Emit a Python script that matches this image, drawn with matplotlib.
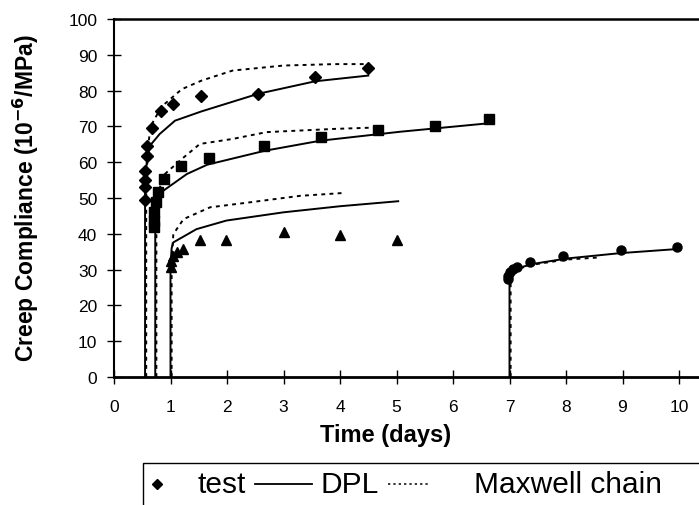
import matplotlib
matplotlib.use("Agg")
import matplotlib.pyplot as plt
from matplotlib.lines import Line2D
from matplotlib.patches import Rectangle

plt.rcParams['font.family'] = ['Liberation Sans', 'DejaVu Sans']

# ---- data ----
test1_t = [0.55, 0.55, 0.55, 0.55, 0.58, 0.59, 0.67, 0.84, 1.05, 1.54, 2.55, 3.56, 4.50]
test1_j = [49.5, 53.1, 55.1, 57.6, 61.8, 64.6, 69.6, 74.4, 76.3, 78.6, 79.1, 83.7, 86.3]
dpl1_t = [0.55, 0.55, 0.58, 0.63, 0.81, 1.08, 1.55, 2.55, 3.56, 4.50]
dpl1_j = [0, 55, 60, 64.5, 67.9, 71.6, 74.2, 79.1, 82.6, 84.2]
mx1_t = [0.57, 0.57, 0.60, 0.64, 0.84, 1.20, 1.55, 2.10, 3.00, 3.90, 4.47]
mx1_j = [0, 55, 63, 69.8, 75.5, 80.4, 82.8, 85.6, 87.0, 87.4, 87.4]

test2_t = [0.70, 0.70, 0.71, 0.74, 0.77, 0.88, 1.19, 1.69, 2.66, 3.66, 4.68, 5.68, 6.64]
test2_j = [41.8, 43.7, 46.0, 48.8, 51.8, 55.3, 58.9, 61.1, 64.6, 67.1, 69.0, 70.0, 72.1]
dpl2_t = [0.73, 0.73, 0.78, 0.87, 1.29, 1.65, 2.67, 3.65, 5.06, 6.65]
dpl2_j = [0, 42, 48, 52, 56.7, 59.3, 63.2, 66.0, 68.5, 70.9]
mx2_t = [0.75, 0.75, 0.78, 0.90, 1.20, 1.52, 2.10, 2.70, 3.90, 4.66]
mx2_j = [0, 46, 51.6, 56.7, 60.9, 65.1, 66.5, 68.4, 69.3, 69.7]

test3_t = [1.00, 1.00, 1.04, 1.11, 1.22, 1.52, 1.99, 3.00, 4.00, 5.00]
test3_j = [30.6, 32.5, 33.9, 34.8, 35.8, 38.4, 38.4, 40.4, 39.8, 38.4]
dpl3_t = [1.00, 1.00, 1.02, 1.05, 1.46, 1.99, 3.00, 4.00, 5.03]
dpl3_j = [0, 31, 36, 37.6, 41.3, 43.7, 46.0, 47.7, 49.1]
mx3_t = [1.02, 1.02, 1.05, 1.23, 1.70, 2.41, 3.29, 4.06]
mx3_j = [0, 33, 39.9, 44.1, 47.4, 48.8, 50.6, 51.4]

test4_t = [6.97, 6.97, 7.00, 7.07, 7.14, 7.36, 7.95, 8.97, 9.97]
test4_j = [27.4, 28.3, 29.2, 30.2, 30.6, 32.0, 33.7, 35.6, 36.4]
dpl4_t = [7.00, 7.00, 7.10, 7.42, 8.01, 8.96, 10.02]
dpl4_j = [0, 28.8, 30.2, 31.6, 33.1, 34.6, 35.8]
mx4_t = [7.02, 7.02, 7.10, 7.42, 8.00, 8.60]
mx4_j = [0, 28.5, 30.0, 31.4, 32.8, 33.4]

x_ticks = list(range(0, 11))
y_ticks = list(range(0, 101, 10))
legend_labels = ["test", "DPL", "Maxwell chain"]

# ---- figure ----
W, H = 699, 506
fig = plt.figure(figsize=(W / 100, H / 100), dpi=100)
ax_left, ax_right, ax_top, ax_bottom = 114, 706, 20, 378
ax_w, ax_h = ax_right - ax_left, ax_bottom - ax_top
ax = fig.add_axes([ax_left / W, 1 - ax_bottom / H, ax_w / W, ax_h / H])
ax.set_xlim(0, ax_w / 56.5)
ax.set_ylim(0, 100)

dot = (0, (2.0, 2.2))
lw = 1.4
for t, j in [(dpl1_t, dpl1_j), (dpl2_t, dpl2_j), (dpl3_t, dpl3_j), (dpl4_t, dpl4_j)]:
    ax.plot(t, j, color='black', lw=lw, solid_joinstyle='round')
for t, j in [(mx1_t, mx1_j), (mx2_t, mx2_j), (mx3_t, mx3_j), (mx4_t, mx4_j)]:
    ax.plot(t, j, color='black', lw=lw, linestyle=dot)

ax.plot(test1_t, test1_j, linestyle='none', marker='D', ms=6, color='black')
ax.plot(test2_t, test2_j, linestyle='none', marker='s', ms=6.5, color='black')
ax.plot(test3_t, test3_j, linestyle='none', marker='^', ms=7, color='black')
ax.plot(test4_t, test4_j, linestyle='none', marker='o', ms=6.5, color='black')

ax.set_xticks(x_ticks)
ax.set_yticks(y_ticks)
ax.tick_params(direction='inout', length=10, width=1, labelsize=12.5, color='black')
ax.tick_params(axis='x', pad=11)
ax.tick_params(axis='y', pad=7)
for s in ['left', 'bottom', 'top']:
    ax.spines[s].set_color('black')
ax.spines['left'].set_linewidth(1.5)
ax.spines['bottom'].set_linewidth(2)
ax.spines['top'].set_linewidth(1.8)
ax.spines['right'].set_visible(False)

ax.set_xlabel("Time (days)", fontsize=17, fontweight='bold')
ax.xaxis.set_label_coords((386 - ax_left) / ax_w, -(424 - ax_bottom) / ax_h)
ax.xaxis.label.set_verticalalignment('top')
ax.set_ylabel(r"Creep Compliance (10$^{\mathbf{-6}}$/MPa)", fontsize=16.5, fontweight='bold')
ax.yaxis.set_label_coords((26 - ax_left) / ax_w, (ax_bottom - 198) / ax_h)
ax.yaxis.label.set_verticalalignment('center')

# ---- legend box (cut by the figure's bottom and right edges, as in the reference) ----
def fx(px):
    return px / W

def fy(py):
    return 1 - py / H

box_l, box_t = 143, 464
fig.add_artist(Rectangle((fx(box_l), fy(box_t + 80)), fx(W + 10 - box_l), 80 / H,
                         transform=fig.transFigure, facecolor='white', edgecolor='black',
                         lw=1.0, clip_on=False))
yb = 493
yc = 485
fig.add_artist(Line2D([fx(157)], [fy(yc)], transform=fig.transFigure, linestyle='none',
                      marker='D', ms=5, color='black'))
fig.add_artist(Line2D([fx(255), fx(312)], [fy(yc), fy(yc)], transform=fig.transFigure,
                      color='black', lw=1.3))
fig.add_artist(Line2D([fx(388), fx(430)], [fy(yc), fy(yc)], transform=fig.transFigure,
                      color='black', lw=1.1, linestyle=(0, (1.5, 2.0))))
lfs = 21.5
fig.text(fx(222), fy(yb), legend_labels[0], fontsize=lfs, ha='center', va='baseline')
fig.text(fx(350), fy(yb), legend_labels[1], fontsize=lfs, ha='center', va='baseline')
fig.text(fx(568), fy(yb), legend_labels[2], fontsize=lfs, ha='center', va='baseline')

fig.savefig("out.png", dpi=100)
